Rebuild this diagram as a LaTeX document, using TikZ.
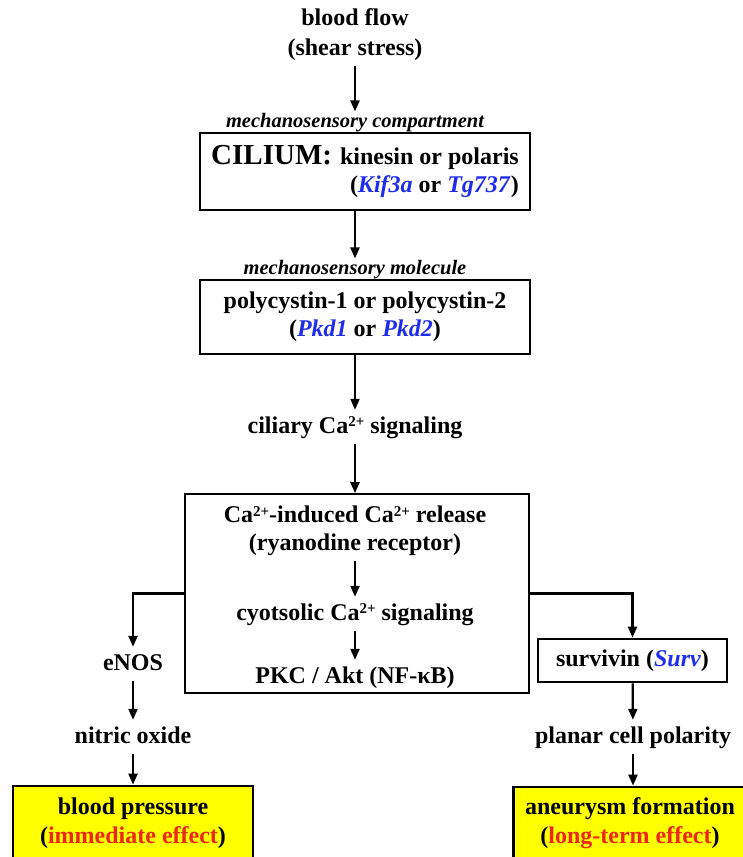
\documentclass[tikz,border=0pt]{standalone}
\usepackage{fontspec}
\setmainfont{Liberation Serif}
\usetikzlibrary{arrows.meta,positioning}

\definecolor{geneblue}{RGB}{30,45,235}
\definecolor{effectred}{RGB}{235,40,20}
\definecolor{effectyellow}{RGB}{255,255,0}

% gene names in blue italics, effects in red
\newcommand{\gene}[1]{\textcolor{geneblue}{\textit{#1}}}
\newcommand{\effect}[1]{\textcolor{effectred}{#1}}
\newcommand{\caion}{Ca\raisebox{6.5pt}{\fontsize{15}{15}\selectfont 2+}}

\begin{document}
\begin{tikzpicture}[x=1pt,y=-1pt,
    font=\fontsize{24}{28}\selectfont\bfseries,
    arr/.style={line width=2.2pt,-{Triangle[length=11pt,width=9pt]}},
    txt/.style={inner sep=6pt,text height=17pt,text depth=5pt},
    lines/.style={inner sep=5pt,align=center},
    note/.style={font=\fontsize{20.5}{24}\selectfont\bfseries\itshape,inner sep=2pt},
    box/.style={draw,line width=2.8pt,align=center,inner sep=0pt},
    thinbox/.style={draw,line width=1.8pt,inner sep=0pt},
    effectbox/.style={box,fill=effectyellow,font=\fontsize{24}{29}\selectfont\bfseries}]

    % Picture size (pixels of the reference)
    \useasboundingbox (0,0) rectangle (743,857);

    % ---- main column ----
    \node[lines,font=\fontsize{24}{30}\selectfont\bfseries] (flow) at (355,35)
        {blood flow\\(shear stress)};
    \node[note] (comp) at (355,123) {mechanosensory compartment};
    \node[box,align=right,minimum width=330,minimum height=77] (cilium) at (365,171.5)
        {{\fontsize{29}{32}\selectfont CILIUM:}\hspace{8pt}kinesin or polaris\\
         (\gene{Kif3a} or \gene{Tg737})};
    \node[note] (mol) at (355,270) {mechanosensory molecule};
    \node[box,minimum width=330,minimum height=74] (poly) at (365,317)
        {polycystin-1 or polycystin-2\\(\gene{Pkd1} or \gene{Pkd2})};
    \node[txt] (ciliary) at (355,427) {ciliary \caion{} signaling};

    % big box with the calcium cascade
    \node[thinbox,minimum width=344,minimum height=199] (ccbox) at (357,593.5) {};
    \node[lines] (cicr) at (355,531) {\caion-induced \caion{} release\\(ryanodine receptor)};
    \node[txt] (cyto) at (355,614) {cyotsolic \caion{} signaling};
    \node[txt] (pkc) at (355,677) {PKC / Akt (NF-κB)};

    % ---- left branch ----
    \node[txt] (enos) at (133,664) {eNOS};
    \node[txt] (nitric) at (133,737) {nitric oxide};
    \node[effectbox,minimum width=240,minimum height=74] (pressure) at (133,823)
        {blood pressure\\(\effect{immediate effect})};

    % ---- right branch ----
    \node[box,minimum width=189,minimum height=43] (surv) at (632.5,660.5)
        {survivin (\gene{Surv})};
    \node[txt] (planar) at (633,737) {planar cell polarity};
    \node[effectbox,minimum width=233,minimum height=73] (aneurysm) at (630,823.5)
        {aneurysm formation\\(\effect{long-term effect})};

    % ---- arrows ----
    \draw[arr] (flow) -- (comp);
    \draw[arr] (cilium.south -| mol) -- (mol);
    \draw[arr] (poly.south -| ciliary) -- (ciliary);
    \draw[arr] (ciliary) -- (ciliary |- ccbox.north);
    \draw[arr] (cicr) -- (cyto);
    \draw[arr] (cyto) -- (pkc);

    \draw[arr] (ccbox.west) -| (enos.north);
    \draw[arr] (enos) -- (nitric);
    \draw[arr] (nitric) -- (pressure);

    \draw[arr] (ccbox.east) -| (surv.north);
    \draw[arr] (surv) -- (planar);
    \draw[arr] (planar) -- (planar |- aneurysm.north);

\end{tikzpicture}
\end{document}
